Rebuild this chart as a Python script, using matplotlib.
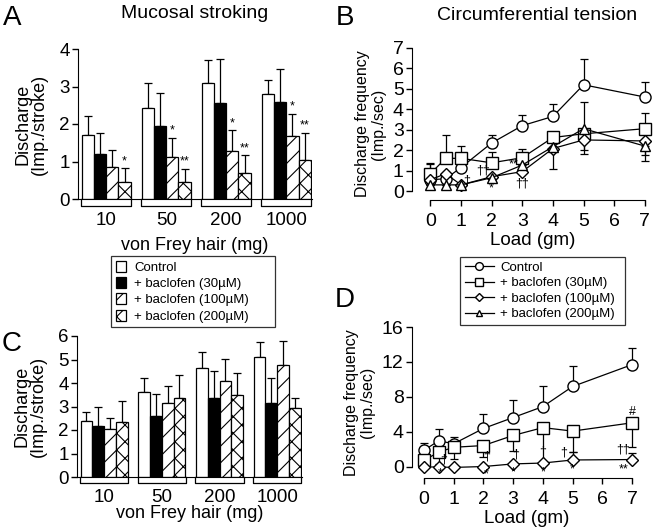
import numpy as np
import matplotlib.pyplot as plt
from matplotlib.patches import Patch
from matplotlib.lines import Line2D

plt.rcParams['font.family'] = ['Liberation Sans', 'DejaVu Sans']
plt.rcParams['hatch.linewidth'] = 0.8

# ---- data ----
hairs = ['10', '50', '200', '1000']
series = ['Control', '+ baclofen (30\u00b5M)', '+ baclofen (100\u00b5M)', '+ baclofen (200\u00b5M)']

# panel A: mucosal stroking (rows = treatment, cols = hair)
A_mean = [[1.70, 2.43, 3.10, 2.80],
          [1.20, 1.95, 2.55, 2.60],
          [0.85, 1.12, 1.28, 1.68],
          [0.45, 0.45, 0.70, 1.03]]
A_err = [[0.52, 0.67, 0.60, 0.37],
         [0.57, 0.87, 1.18, 0.87],
         [0.45, 0.51, 0.55, 0.59],
         [0.37, 0.35, 0.47, 0.74]]
A_stars = [['', '', '', ''], ['', '', '', ''], ['', '*', '*', '*'], ['*', '**', '**', '**']]

# panel C
C_mean = [[2.37, 3.63, 4.63, 5.10],
          [2.15, 2.60, 3.38, 3.17],
          [2.03, 3.15, 4.10, 4.75],
          [2.35, 3.35, 3.47, 2.92]]
C_err = [[0.41, 0.57, 0.67, 0.65],
         [0.85, 0.95, 1.14, 1.05],
         [0.50, 0.73, 0.92, 1.03],
         [0.90, 0.97, 0.96, 0.46]]

# panels B and D: load vs discharge
load = [0, 0.5, 1, 2, 3, 4, 5, 7]
B_mean = [[0.55, 0.60, 1.15, 2.35, 3.20, 3.65, 5.20, 4.60],
          [0.85, 1.60, 1.60, 1.38, 1.63, 2.62, 2.80, 3.05],
          [0.55, 0.85, 0.30, 0.70, 0.95, 2.08, 2.50, 2.45],
          [0.30, 0.30, 0.30, 0.65, 1.27, 2.17, 3.05, 2.20]]
B_hi = [[0.80, 0, 0, 0.40, 0.50, 0.60, 1.25, 0.72],
        [0.45, 1.12, 0.62, 0.55, 0.45, 0, 0, 0.76],
        [0, 0, 0, 0, 0, 0, 0, 0],
        [0, 0, 0, 0, 0, 0, 1.30, 0]]
B_lo = [[0, 0, 0, 0, 0, 0, 0, 0],
        [0, 0, 0, 0, 0, 0, 0.80, 0],
        [0, 0, 0, 0, 0, 1.00, 0.70, 1.00],
        [0, 0, 0, 0, 0, 0, 0, 0.45]]
B_notes = [(1.2, 0.5, '\u2020'), (1.72, 1.0, '\u2020\u2020'), (2.0, 0.15, '*'),
           (2.72, 1.32, '**'), (3.0, 0.35, '\u2020\u2020')]

D_mean = [[1.90, 3.00, 2.65, 4.40, 5.65, 6.90, 9.20, 11.70],
          [0.75, 1.70, 2.25, 2.45, 3.60, 4.50, 4.10, 5.05],
          [0.00, 0.00, -0.05, 0.05, 0.35, 0.45, 0.80, 0.85]]
D_hi = [[0.80, 1.30, 0.75, 1.60, 2.00, 2.30, 2.30, 1.90],
        [0, 0, 0, 0, 0, 0, 0, 0],
        [0, 0, 0, 0, 0, 0, 0.90, 0.80]]
D_lo = [[0, 0, 0, 0, 0, 0, 0, 0],
        [0.50, 1.40, 1.35, 1.35, 1.80, 4.20, 2.40, 2.75],
        [0, 0, 0, 0, 0, 0, 0, 0]]
D_notes = [(0.65, 0.8, '\u2020'), (0.55, -0.7, '*'), (2.1, 1.2, '\u2020'), (2.1, -0.8, '*'),
           (3.1, 1.4, '\u2020'), (3.0, -0.6, '*'), (4.0, 1.8, '\u2020'), (4.0, -0.6, '*'),
           (4.7, 1.7, '\u2020'), (5.0, -0.3, '*'), (6.7, 2.0, '\u2020\u2020'), (6.7, -0.3, '**'),
           (7.0, 6.3, '#')]

# ---- style ----
bar_face = ['white', 'black', 'white', 'white']
bar_hatch = [None, None, '//', 'xx']
markers = ['o', 's', 'D', '^']
msizes = [8, 8, 6.5, 7]

fig = plt.figure(figsize=(6.55, 5.27), dpi=100)
W, H = 655.0, 527.0

def ax_px(x0, y0, x1, y1):
    return fig.add_axes([x0 / W, 1 - y1 / H, (x1 - x0) / W, (y1 - y0) / H])

pitch = 4.9

def bar_panel(ax, mean, err, ymax, stars=None):
    for i in range(4):
        xs = np.arange(4) * pitch + i + 0.5
        ax.bar(xs, mean[i], width=1.0, color=bar_face[i], edgecolor='black',
               hatch=bar_hatch[i], linewidth=0.9, zorder=2)
        ax.errorbar(xs, mean[i], yerr=[np.zeros(4), err[i]], fmt='none',
                    ecolor='black', elinewidth=0.9, capsize=3, capthick=0.9, zorder=1)
        if stars:
            for g in range(4):
                if stars[i][g]:
                    ax.text(xs[g], mean[i][g] + err[i][g] + 0.03, stars[i][g],
                            ha='center', va='bottom', fontsize=9)
    ax.set_xlim(-0.3, 3 * pitch + 4.1)
    ax.set_ylim(0, ymax)
    ax.spines[['top', 'right']].set_visible(False)
    ax.set_yticks(range(ymax + 1))
    ax.tick_params(axis='y', direction='out', length=4, width=1, pad=2, labelsize=13.5)
    ax.set_xticks(np.arange(4) * pitch + 2)
    ax.set_xticklabels(hairs)
    ax.tick_params(axis='x', length=0, pad=9, labelsize=13.5)
    tr = ax.get_xaxis_transform()
    for g in range(4):
        x0 = g * pitch - 0.05
        x1 = g * pitch + 4.05
        ax.plot([x0, x0, x1, x1], [0, -0.045, -0.045, 0], color='black',
                lw=0.9, transform=tr, clip_on=False)
    ax.set_ylabel('Discharge\n(Imp./stroke)', fontsize=13, labelpad=8, linespacing=1.0)


def line_panel(ax, means, his, los, notes, xlim, ylim, yticks):
    for i in range(len(means)):
        ax.errorbar(load, means[i], yerr=[los[i], his[i]], fmt='none', ecolor='black',
                    elinewidth=0.9, capsize=3, capthick=0.9, zorder=1, clip_on=False)
    for i in range(len(means)):
        ax.plot(load, means[i], color='black', lw=0.9, marker=markers[i], ms=msizes[i],
                mfc='white', mec='black', mew=1.0, zorder=3 + i, clip_on=False)
    for x, y, t in notes:
        ax.text(x, y, t, ha='center', va='center', fontsize=9, zorder=10)
    ax.set_xlim(*xlim)
    ax.set_ylim(*ylim)
    ax.spines[['top', 'right']].set_visible(False)
    ax.spines['left'].set_bounds(0, yticks[-1])
    ax.spines['bottom'].set_bounds(0, 7)
    ax.set_yticks(yticks)
    ax.set_xticks(range(8))
    ax.tick_params(direction='out', length=4, width=1, pad=2, labelsize=14)
    ax.tick_params(axis='x', pad=5)
    ax.set_xlabel('Load (gm)', fontsize=13.5, labelpad=2)
    ax.set_ylabel('Discharge frequency\n(Imp./sec)', fontsize=11.5, labelpad=5, linespacing=1.05)


# panel A
axA = ax_px(78, 49, 312, 199)
bar_panel(axA, A_mean, A_err, 4, A_stars)
axA.set_xlabel('von Frey hair (mg)', fontsize=13, labelpad=6)

# panel C
axC = ax_px(77, 336, 302, 477)
bar_panel(axC, C_mean, C_err, 6)
axC.set_xlabel('von Frey hair (mg)', fontsize=13, labelpad=-1)

# panel B
axB = ax_px(412, 48, 654, 200)
line_panel(axB, B_mean, B_hi, B_lo, B_notes, (-0.6, 7.3), (-0.44, 7.0), list(range(8)))

# panel D
axD = ax_px(412, 327, 641, 478)
line_panel(axD, D_mean, D_hi, D_lo, D_notes, (-0.4, 7.3), (-1.26, 16), [0, 4, 8, 12, 16])

# legends
bar_handles = [Patch(facecolor=bar_face[i], edgecolor='black', hatch=bar_hatch[i], lw=0.9)
               for i in range(4)]
legA = fig.legend(bar_handles, series, loc='upper left', mode='expand',
                  bbox_to_anchor=(111 / W, 1 - 323 / H, 164 / W, 67 / H), fontsize=9.5,
                  frameon=True, fancybox=False, edgecolor='black', handlelength=0.8,
                  handleheight=0.9, handletextpad=0.6, labelspacing=0.25, borderpad=0.35,
                  borderaxespad=0)
legA.get_frame().set_linewidth(0.9)

line_handles = [Line2D([0], [0], color='black', lw=0.9, marker=markers[i], ms=msizes[i] * 0.7,
                       mfc='white', mec='black') for i in range(4)]
legB = fig.legend(line_handles, series, loc='upper left', mode='expand',
                  bbox_to_anchor=(460 / W, 1 - 325 / H, 165 / W, 68 / H), fontsize=9.5,
                  frameon=True, fancybox=False, edgecolor='black', handlelength=2.2,
                  handletextpad=0.5, labelspacing=0.25, borderpad=0.35, borderaxespad=0)
legB.get_frame().set_linewidth(0.9)

# titles and panel letters
fig.text(195 / W, 1 - 13 / H, 'Mucosal stroking', ha='center', va='center', fontsize=14)
fig.text(537 / W, 1 - 15 / H, 'Circumferential tension', ha='center', va='center', fontsize=14)
for x, y, t in [(12, 18, 'A'), (345, 18, 'B'), (12, 344, 'C'), (345, 300, 'D')]:
    fig.text(x / W, 1 - y / H, t, ha='center', va='center', fontsize=20)

fig.savefig('out.png', dpi=100)
